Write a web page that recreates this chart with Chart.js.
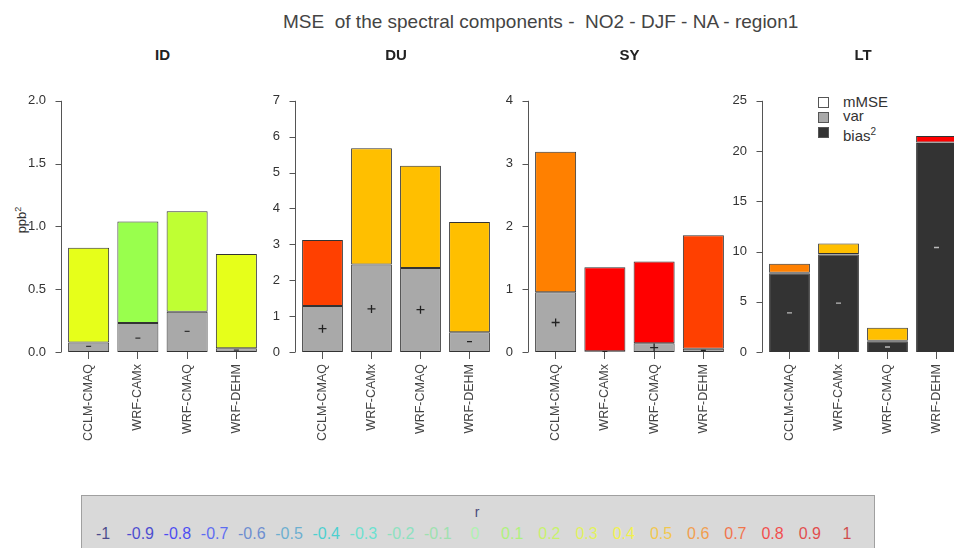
<!DOCTYPE html>
<html>
<head>
<meta charset="utf-8">
<script src="https://cdn.jsdelivr.net/npm/chart.js@4/dist/chart.umd.min.js"></script>
<style>
  body { margin: 0; width: 954px; height: 548px; overflow: hidden; background: #fff; position: relative;
         font-family: "Liberation Sans", Arial, sans-serif; color: #333; }
  .abs { position: absolute; white-space: pre; }
  #title { left: 283px; top: 11px; font-size: 19px; color: #444; }
  .ptitle { top: 46px; font-size: 15px; font-weight: bold; color: #222; transform: translateX(-50%); }
  #ylab { left: 21px; top: 220px; font-size: 13px; transform: translate(-50%, -50%) rotate(-90deg); }
  .leg { left: 843px; font-size: 15px; line-height: 15px; color: #333; }
  .legbox { left: 818px; width: 9px; height: 9px; border: 1px solid #555; }
  #rbox { left: 81px; top: 495px; width: 792px; height: 60px; background: #d9d9d9; border: 1px solid #a0a0a0; }
  .rlab { top: 29px; font-size: 16px; transform: translateX(-50%); }
  #rtitle { top: 8px; left: 395px; font-size: 14px; color: #4a4a7a; transform: translateX(-50%); }
</style>
</head>
<body>
<div id="title" class="abs">MSE  of the spectral components -  NO2 - DJF - NA - region1</div>
<div id="ylab" class="abs">ppb<sup style="font-size:9px">2</sup></div>

<div class="abs legbox" style="top:97px;background:#fff"></div>
<div class="abs legbox" style="top:112px;background:#a9a9a9"></div>
<div class="abs legbox" style="top:127px;background:#333"></div>
<div class="abs leg" style="top:94px">mMSE</div>
<div class="abs leg" style="top:108px">var</div>
<div class="abs leg" style="top:124px">bias<sup style="font-size:10px">2</sup></div>

<div id="rbox" class="abs"><div id="rtitle" class="abs">r</div></div>

<script>
const models = ['CCLM-CMAQ', 'WRF-CAMx', 'WRF-CMAQ', 'WRF-DEHM'];

// ID component
const idBias = [0, 0, 0, 0];
const idVar = [0.075, 0.23, 0.32, 0.03];
const idMmse = [0.755, 0.81, 0.80, 0.75];
const idR = [0.3, 0.1, 0.2, 0.3];
const idMark = [0.045, 0.11, 0.165, 0.015];
const idSign = ['-', '-', '-', '-'];
const idTicks = [0, 0.5, 1, 1.5, 2];

// DU component
const duBias = [0, 0, 0, 0];
const duVar = [1.28, 2.44, 2.34, 0.55];
const duMmse = [1.84, 3.24, 2.85, 3.07];
const duR = [0.7, 0.5, 0.5, 0.5];
const duMark = [0.65, 1.2, 1.18, 0.29];
const duSign = ['+', '+', '+', '-'];
const duTicks = [0, 1, 2, 3, 4, 5, 6, 7];

// SY component
const syBias = [0, 0, 0, 0];
const syVar = [0.95, 0.01, 0.14, 0.05];
const syMmse = [2.24, 1.34, 1.30, 1.81];
const syR = [0.6, 0.8, 0.8, 0.7];
const syMark = [0.47, 0.005, 0.07, 0.025];
const sySign = ['+', '-', '+', '-'];
const syTicks = [0, 1, 2, 3, 4];

// LT component
const ltBias = [7.84, 9.7, 1.03, 20.8];
const ltVar = [0.05, 0.05, 0.1, 0.05];
const ltMmse = [0.89, 1.05, 1.29, 0.65];
const ltR = [0.6, 0.5, 0.5, 0.8];
const ltMark = [3.9, 4.87, 0.5, 10.4];
const ltSign = ['-', '-', '-', '-'];
const ltTicks = [0, 5, 10, 15, 20, 25];

// colour scale of r
const rValues = [-1, -0.9, -0.8, -0.7, -0.6, -0.5, -0.4, -0.3, -0.2, -0.1, 0, 0.1, 0.2, 0.3, 0.4, 0.5, 0.6, 0.7, 0.8, 0.9, 1];
const rLabels = ['-1', '-0.9', '-0.8', '-0.7', '-0.6', '-0.5', '-0.4', '-0.3', '-0.2', '-0.1', '0', '0.1', '0.2', '0.3', '0.4', '0.5', '0.6', '0.7', '0.8', '0.9', '1'];
const rColors = ['#000066', '#0000cc', '#0000ff', '#1a33ff', '#3366cc', '#3399cc', '#00cccc', '#33e6cc', '#66e6b3', '#80e699', '#99ff99',
                 '#99ff4d', '#bfff33', '#e6ff1a', '#ffff00', '#ffbf00', '#ff8000', '#ff4000', '#ff0000', '#e60000', '#cc0000'];

function rColor(r) {
  return rColors[Math.round((r + 1) * 10)];
}

const TOP = 85, BOTTOM = 352, YW = 60, XH = 100, PADT = 10, PADR = 12;

const panels = [
  { name: 'ID', left: 64, right: 261, bias: idBias, vari: idVar, mmse: idMmse, r: idR, mark: idMark, sign: idSign, ticks: idTicks, dec: 1, markColor: '#333' },
  { name: 'DU', left: 298, right: 494, bias: duBias, vari: duVar, mmse: duMmse, r: duR, mark: duMark, sign: duSign, ticks: duTicks, dec: 0, markColor: '#222' },
  { name: 'SY', left: 531, right: 728, bias: syBias, vari: syVar, mmse: syMmse, r: syR, mark: syMark, sign: sySign, ticks: syTicks, dec: 0, markColor: '#222' },
  { name: 'LT', left: 765, right: 961, bias: ltBias, vari: ltVar, mmse: ltMmse, r: ltR, mark: ltMark, sign: ltSign, ticks: ltTicks, dec: 0, markColor: '#bbb' },
];

// R style y axis: line from first to last tick, a little left of the plot
const rAxis = {
  id: 'rAxis',
  afterDraw(chart) {
    const ys = chart.scales.y, ctx = chart.ctx;
    const x = Math.round(chart.chartArea.left - 3) + 0.5;
    const vals = ys.ticks.map(t => t.value);
    ctx.save();
    ctx.strokeStyle = '#555';
    ctx.lineWidth = 1;
    ctx.beginPath();
    ctx.moveTo(x, ys.getPixelForValue(vals[0]));
    ctx.lineTo(x, ys.getPixelForValue(vals[vals.length - 1]));
    vals.forEach(v => {
      const yy = Math.round(ys.getPixelForValue(v)) + 0.5;
      ctx.moveTo(x - 6, yy);
      ctx.lineTo(x, yy);
    });
    ctx.stroke();
    ctx.restore();
  }
};

panels.forEach(p => {
  const W = p.right - p.left + YW + PADR;
  const H = BOTTOM - TOP + PADT + XH;
  const cv = document.createElement('canvas');
  cv.width = W;
  cv.height = H;
  cv.style.position = 'absolute';
  cv.style.left = (p.left - YW) + 'px';
  cv.style.top = (TOP - PADT) + 'px';
  document.body.appendChild(cv);

  const t = document.createElement('div');
  t.className = 'abs ptitle';
  t.style.left = ((p.left + p.right) / 2) + 'px';
  t.textContent = p.name;
  document.body.appendChild(t);

  const barBase = { borderColor: '#333', borderWidth: 1, borderSkipped: false, barPercentage: 0.833, categoryPercentage: 1 };

  new Chart(cv, {
    type: 'bar',
    data: {
      labels: models,
      datasets: [
        { type: 'line', label: 'sign', data: p.mark, showLine: false, order: -1,
          pointStyle: p.sign.map(s => s === '+' ? 'cross' : 'line'),
          pointRadius: p.sign.map(s => s === '+' ? 4 : 2.5),
          pointBorderWidth: 1.3, pointBorderColor: p.markColor, pointBackgroundColor: p.markColor, borderColor: p.markColor },
        Object.assign({ label: 'bias2', data: p.bias, backgroundColor: '#333333' }, barBase),
        Object.assign({ label: 'var', data: p.vari, backgroundColor: '#a9a9a9' }, barBase),
        Object.assign({ label: 'mMSE', data: p.mmse, backgroundColor: p.r.map(rColor) }, barBase),
      ]
    },
    options: {
      responsive: false,
      animation: false,
      layout: { padding: { top: PADT, right: PADR, left: 0, bottom: 0 } },
      plugins: { legend: { display: false }, tooltip: { enabled: false } },
      scales: {
        x: {
          stacked: true,
          border: { display: false },
          grid: { display: true, drawOnChartArea: false, drawTicks: true, tickLength: 7, offset: false, color: '#555' },
          ticks: { minRotation: 90, maxRotation: 90, padding: 5, color: '#444', autoSkip: false,
                   font: { family: '"Liberation Sans", Arial, sans-serif', size: 12.5 } },
          afterFit: s => { s.height = XH; }
        },
        y: {
          stacked: true,
          min: p.ticks[0],
          max: p.ticks[p.ticks.length - 1],
          border: { display: false },
          grid: { display: false, drawTicks: false },
          afterBuildTicks: s => { s.ticks = p.ticks.map(v => ({ value: v })); },
          ticks: { padding: 18, color: '#333', autoSkip: false,
                   font: { family: '"Liberation Sans", Arial, sans-serif', size: 13 },
                   callback: v => v.toFixed(p.dec) },
          afterFit: s => { s.width = YW; }
        }
      }
    },
    plugins: [rAxis]
  });
});

// legend of r colours
const rbox = document.getElementById('rbox');
rValues.forEach((r, i) => {
  const s = document.createElement('div');
  s.className = 'abs rlab';
  s.style.left = (475 + r * 372 - 82) + 'px';
  s.style.color = rColors[i];
  s.style.opacity = 0.65;
  s.textContent = rLabels[i];
  rbox.appendChild(s);
});
</script>
</body>
</html>
